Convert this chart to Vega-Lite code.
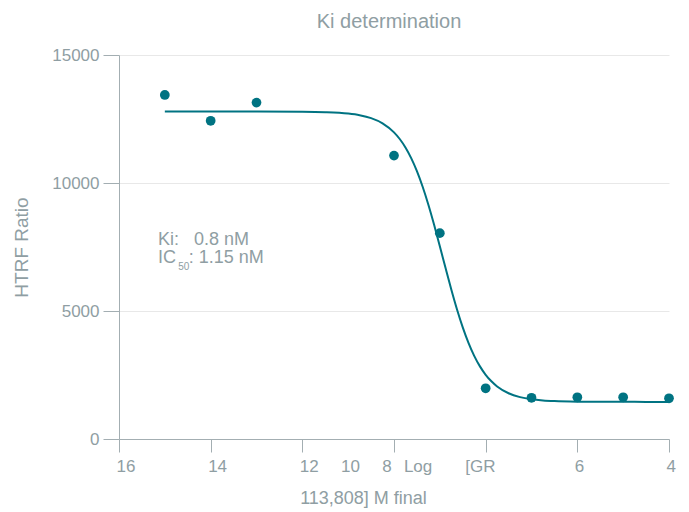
{
  "$schema": "https://vega.github.io/schema/vega-lite/v6.json",
  "width": 550,
  "height": 384,
  "autosize": {"type": "none"},
  "padding": {"left": 119, "top": 55, "right": 20, "bottom": 73},
  "background": "white",
  "config": {
    "font": "Liberation Sans",
    "view": {"stroke": null},
    "axis": {
      "labelFont": "Liberation Sans",
      "titleFont": "Liberation Sans",
      "labelFontSize": 17,
      "titleFontSize": 18,
      "labelColor": "#8f9ea3",
      "titleColor": "#8f9ea3",
      "titleFontWeight": "normal",
      "domainColor": "#a3aeb2",
      "tickColor": "#a3aeb2",
      "gridColor": "#e8e8e8"
    }
  },
  "title": {
    "text": "Ki determination",
    "fontSize": 20,
    "fontWeight": "normal",
    "color": "#8f9ea3",
    "font": "Liberation Sans",
    "baseline": "alphabetic",
    "offset": 18,
    "dy": 20,
    "dx": -5
  },
  "datasets": {
    "points": [
      {"logConc": -15, "ratio": 13440},
      {"logConc": -14, "ratio": 12430},
      {"logConc": -13, "ratio": 13140},
      {"logConc": -10, "ratio": 11070},
      {"logConc": -9, "ratio": 8040},
      {"logConc": -8, "ratio": 1980},
      {"logConc": -7, "ratio": 1610},
      {"logConc": -6, "ratio": 1630},
      {"logConc": -5, "ratio": 1630},
      {"logConc": -4, "ratio": 1590}
    ],
    "fit": [
      {"logConc": -15, "ratio": 12790},
      {"logConc": -14, "ratio": 12790},
      {"logConc": -13, "ratio": 12789},
      {"logConc": -12, "ratio": 12783},
      {"logConc": -11.5, "ratio": 12767},
      {"logConc": -11, "ratio": 12713},
      {"logConc": -10.75, "ratio": 12649},
      {"logConc": -10.5, "ratio": 12535},
      {"logConc": -10.25, "ratio": 12332},
      {"logConc": -10, "ratio": 11978},
      {"logConc": -9.875, "ratio": 11719},
      {"logConc": -9.75, "ratio": 11388},
      {"logConc": -9.625, "ratio": 10972},
      {"logConc": -9.5, "ratio": 10463},
      {"logConc": -9.375, "ratio": 9854},
      {"logConc": -9.25, "ratio": 9151},
      {"logConc": -9.125, "ratio": 8368},
      {"logConc": -9, "ratio": 7530},
      {"logConc": -8.875, "ratio": 6676},
      {"logConc": -8.75, "ratio": 5840},
      {"logConc": -8.625, "ratio": 5059},
      {"logConc": -8.5, "ratio": 4360},
      {"logConc": -8.375, "ratio": 3755},
      {"logConc": -8.25, "ratio": 3249},
      {"logConc": -8.125, "ratio": 2837},
      {"logConc": -8, "ratio": 2509},
      {"logConc": -7.875, "ratio": 2253},
      {"logConc": -7.75, "ratio": 2054},
      {"logConc": -7.5, "ratio": 1788},
      {"logConc": -7.25, "ratio": 1637},
      {"logConc": -7, "ratio": 1553},
      {"logConc": -6.75, "ratio": 1507},
      {"logConc": -6.5, "ratio": 1481},
      {"logConc": -6, "ratio": 1459},
      {"logConc": -5.5, "ratio": 1453},
      {"logConc": -5, "ratio": 1451},
      {"logConc": -4.5, "ratio": 1450},
      {"logConc": -4, "ratio": 1450}
    ],
    "notes": [
      {"key": "ki", "label": "Ki:\u00a0\u00a0 0.8 nM"},
      {"key": "ic", "label": "IC"},
      {"key": "sub", "label": "50"},
      {"key": "icval", "label": ": 1.15 nM"}
    ]
  },
  "layer": [
    {
      "data": {"name": "fit"},
      "mark": {"type": "line", "color": "#007382", "strokeWidth": 2, "interpolate": "monotone"},
      "encoding": {
        "x": {
          "field": "logConc",
          "type": "quantitative",
          "scale": {"domain": [-16, -4], "nice": false, "zero": false},
          "axis": {
            "title": "113,808] M final",
            "values": [-16, -14, -12, -11.1, -10.2, -10, -9.73, -8.39, -8, -6, -4],
            "labelExpr": "datum.value == -16 ? '16' : datum.value == -14 ? '14' : datum.value == -12 ? '12' : datum.value == -11.1 ? '10' : datum.value == -10.2 ? '8' : datum.value == -9.73 ? 'Log' : datum.value == -8.39 ? '[GR' : datum.value == -6 ? '6' : datum.value == -4 ? '4' : ''",
            "labelAlign": "left",
            "labelOffset": -3,
            "labelFlush": false,
            "labelOverlap": false,
            "labelPadding": 6,
            "tickSize": 13,
            "tickOpacity": {"condition": {"test": "datum.value % 2 != 0", "value": 0}, "value": 1},
            "grid": false,
            "titlePadding": 15,
            "titleX": 244
          }
        },
        "y": {
          "field": "ratio",
          "type": "quantitative",
          "scale": {"domain": [0, 15000], "nice": false},
          "axis": {
            "title": "HTRF Ratio",
            "titleFontSize": 19,
            "values": [0, 5000, 10000, 15000],
            "format": "d",
            "tickSize": 16,
            "labelPadding": 4,
            "grid": true,
            "titlePadding": 20
          }
        }
      }
    },
    {
      "data": {"name": "points"},
      "mark": {"type": "circle", "size": 95, "opacity": 1, "color": "#007382"},
      "encoding": {
        "x": {"field": "logConc", "type": "quantitative"},
        "y": {"field": "ratio", "type": "quantitative"}
      }
    },
    {
      "data": {"name": "notes"},
      "transform": [{"filter": "datum.key == 'ki'"}],
      "mark": {"type": "text", "align": "left", "baseline": "alphabetic", "fontSize": 18, "color": "#8f9ea3"},
      "encoding": {
        "x": {"datum": -15.149, "type": "quantitative"},
        "y": {"datum": 7578, "type": "quantitative"},
        "text": {"field": "label"}
      }
    },
    {
      "data": {"name": "notes"},
      "transform": [{"filter": "datum.key == 'ic'"}],
      "mark": {"type": "text", "align": "left", "baseline": "alphabetic", "fontSize": 18, "color": "#8f9ea3"},
      "encoding": {
        "x": {"datum": -15.149, "type": "quantitative"},
        "y": {"datum": 6863, "type": "quantitative"},
        "text": {"field": "label"}
      }
    },
    {
      "data": {"name": "notes"},
      "transform": [{"filter": "datum.key == 'sub'"}],
      "mark": {"type": "text", "align": "left", "baseline": "alphabetic", "fontSize": 10, "color": "#8f9ea3"},
      "encoding": {
        "x": {"datum": -14.71, "type": "quantitative"},
        "y": {"datum": 6602, "type": "quantitative"},
        "text": {"field": "label"}
      }
    },
    {
      "data": {"name": "notes"},
      "transform": [{"filter": "datum.key == 'icval'"}],
      "mark": {"type": "text", "align": "left", "baseline": "alphabetic", "fontSize": 18, "color": "#8f9ea3"},
      "encoding": {
        "x": {"datum": -14.48, "type": "quantitative"},
        "y": {"datum": 6863, "type": "quantitative"},
        "text": {"field": "label"}
      }
    }
  ]
}
